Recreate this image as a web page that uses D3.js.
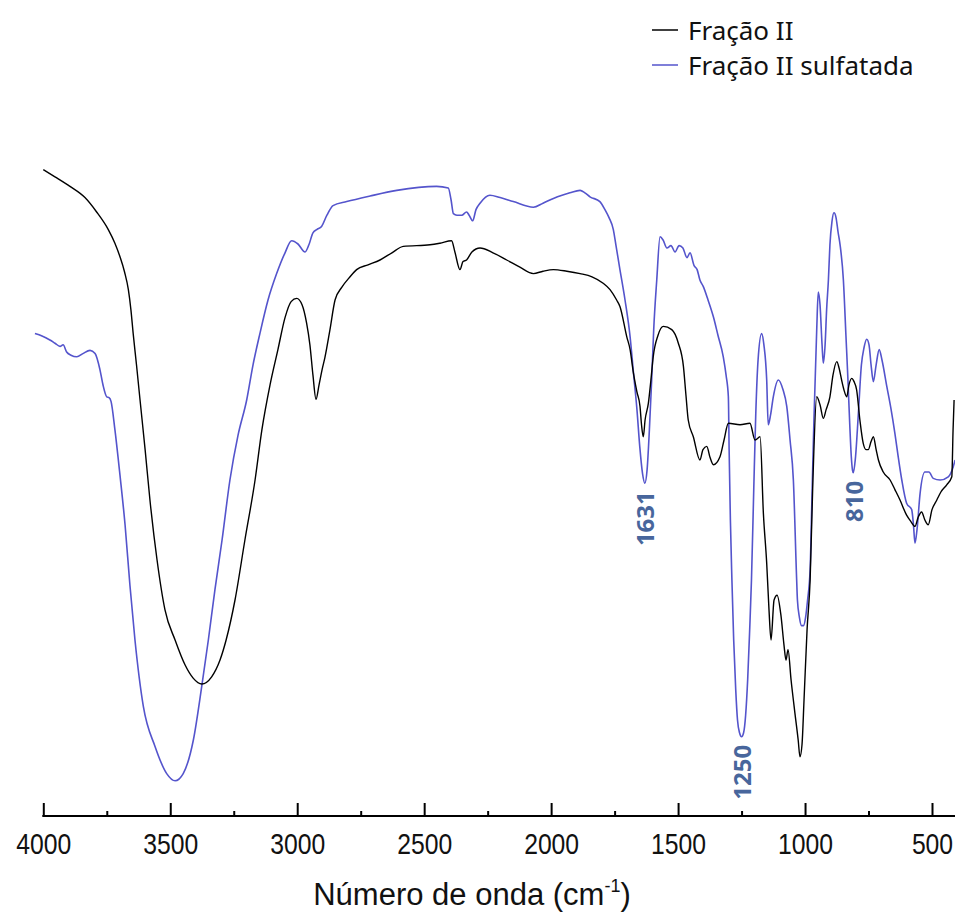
<!DOCTYPE html>
<html>
<head>
<meta charset="utf-8">
<script src="https://cdn.jsdelivr.net/npm/d3@7"></script>
<style>
  html, body { margin: 0; padding: 0; background: #fff; }
  svg { display: block; }
</style>
</head>
<body>
<svg id="chart" width="955" height="920"></svg>
<script>
// FTIR spectra: [wavenumber (cm-1), relative transmittance]
const fracaoII = [
  [4000,80.8],[3954,79.9],[3895,78.7],[3836,77.3],[3790,75.5],[3744,73.3],[3718,71.6],[3698,69.9],
  [3680,68.0],[3665,65.8],[3655,63.3],[3646,60.3],[3633,56.4],[3619,52.0],[3599,45.8],[3580,39.5],
  [3552,32.0],[3521,25.8],[3481,22.0],[3442,18.9],[3409,17.2],[3376,16.5],[3337,17.4],[3304,19.5],
  [3280,22.0],[3245,27.0],[3206,34.5],[3166,42.0],[3139,48.3],[3107,53.9],[3076,58.3],[3048,62.3],
  [3024,64.3],[3002,64.7],[2981,63.9],[2963,61.6],[2950,58.9],[2938,55.1],[2926,52.1],[2914,53.9],
  [2902,55.8],[2891,57.3],[2871,60.8],[2851,64.5],[2824,66.1],[2792,67.4],[2766,68.3],[2721,68.9],
  [2674,69.5],[2627,70.4],[2582,71.2],[2477,71.4],[2438,71.6],[2392,71.9],[2379,70.5],[2359,68.3],
  [2347,69.3],[2333,69.5],[2312,70.5],[2280,71.0],[2229,70.4],[2175,69.5],[2123,68.6],[2070,67.8],
  [2032,68.1],[1991,68.3],[1938,68.1],[1886,67.8],[1839,67.4],[1795,66.6],[1768,65.8],[1742,64.5],
  [1729,63.7],[1702,59.9],[1689,58.3],[1676,55.4],[1662,53.0],[1650,51.2],[1644,48.9],[1637,47.4],
  [1630,49.5],[1617,51.6],[1607,54.5],[1598,57.4],[1579,60.1],[1558,61.2],[1525,60.8],[1499,59.1],
  [1479,56.2],[1469,52.6],[1460,49.5],[1440,47.4],[1414,44.5],[1402,45.8],[1387,46.2],[1374,44.8],
  [1361,43.9],[1335,44.9],[1319,47.0],[1302,49.1],[1256,48.9],[1217,49.1],[1197,47.0],[1177,47.4],
  [1164,37.8],[1151,31.6],[1142,25.8],[1134,22.0],[1122,27.0],[1110,27.6],[1095,25.1],[1083,21.4],
  [1075,19.5],[1067,20.8],[1055,17.0],[1040,12.9],[1027,9.5],[1020,7.4],[1012,8.9],[1004,14.5],
  [992,23.3],[980,29.5],[969,42.0],[954,52.4],[941,51.4],[928,49.7],[917,50.8],[902,52.4],
  [890,55.1],[875,56.8],[866,56.0],[856,54.5],[847,53.3],[836,52.4],[827,53.9],[816,54.7],
  [807,54.3],[797,53.3],[784,49.5],[771,46.6],[760,45.8],[751,45.8],[740,46.8],[731,47.4],
  [720,45.8],[711,44.5],[692,43.0],[665,42.0],[646,40.8],[626,39.5],[600,37.6],[583,36.8],
  [567,36.2],[555,37.3],[541,38.0],[528,37.0],[515,36.4],[500,38.3],[481,39.5],[465,40.5],
  [442,41.4],[422,42.4],[417,48.3],[413,52.0]
];

const fracaoIISulfatada = [
  [4033,60.3],[4005,60.0],[3974,59.5],[3954,59.1],[3934,58.7],[3922,58.9],[3908,58.0],[3891,57.6],
  [3868,57.4],[3844,57.8],[3816,58.2],[3796,57.8],[3777,55.8],[3765,53.9],[3750,52.4],[3741,52.3],
  [3733,51.8],[3718,48.3],[3698,42.6],[3678,36.4],[3659,28.9],[3639,22.0],[3606,13.7],[3560,8.7],
  [3514,5.3],[3481,4.4],[3449,5.3],[3409,9.5],[3376,16.2],[3350,22.0],[3324,28.3],[3296,34.5],
  [3265,42.0],[3233,47.6],[3199,52.0],[3174,56.4],[3147,60.3],[3115,64.5],[3081,67.8],[3048,70.4],
  [3022,71.9],[2997,71.5],[2969,70.5],[2954,71.4],[2938,72.9],[2923,73.3],[2904,73.7],[2883,75.1],
  [2859,76.3],[2805,76.8],[2713,77.5],[2608,78.2],[2451,78.7],[2405,78.5],[2394,77.0],[2385,75.3],
  [2371,75.1],[2352,75.1],[2333,75.5],[2323,75.1],[2309,74.4],[2296,75.8],[2280,76.6],[2241,77.6],
  [2201,77.3],[2149,76.8],[2070,76.1],[2032,76.6],[1991,77.2],[1957,77.6],[1926,77.9],[1886,78.2],
  [1867,77.9],[1847,77.4],[1808,76.8],[1788,75.8],[1772,74.8],[1755,73.3],[1745,71.4],[1729,68.3],
  [1709,64.5],[1689,59.9],[1676,55.5],[1662,50.8],[1651,46.2],[1640,42.8],[1631,41.6],[1622,43.3],
  [1613,48.3],[1604,54.5],[1596,60.8],[1584,67.0],[1571,72.4],[1559,72.0],[1544,71.0],[1528,71.3],
  [1512,70.5],[1496,71.3],[1481,71.0],[1465,69.8],[1453,70.4],[1437,68.8],[1425,68.3],[1414,67.0],
  [1401,66.2],[1382,64.5],[1361,62.4],[1343,60.1],[1322,57.4],[1311,55.1],[1302,52.4],[1299,45.8],
  [1294,37.0],[1288,29.5],[1281,22.0],[1273,15.8],[1266,12.0],[1258,10.4],[1250,9.9],[1242,10.4],
  [1234,12.6],[1226,17.0],[1218,23.3],[1211,29.5],[1202,40.8],[1194,50.3],[1185,57.0],[1171,60.3],
  [1162,58.9],[1151,54.5],[1145,48.9],[1136,50.1],[1125,52.4],[1105,54.5],[1087,53.3],[1072,51.2],
  [1059,47.0],[1046,42.0],[1033,29.5],[1030,27.0],[1022,24.8],[1014,23.8],[1006,23.8],[998,24.8],
  [990,27.0],[980,30.8],[973,39.5],[965,49.5],[954,60.8],[948,65.5],[941,63.9],[933,58.9],
  [928,56.6],[921,58.9],[915,63.3],[908,67.0],[902,71.4],[894,74.3],[886,75.4],[878,74.8],
  [870,73.0],[862,71.4],[849,67.0],[839,60.1],[831,54.5],[824,49.0],[818,45.0],[813,43.2],
  [810,42.9],[802,44.6],[790,50.3],[778,56.4],[768,58.5],[757,59.6],[748,58.9],[740,56.4],
  [731,54.3],[720,56.4],[708,58.3],[697,57.0],[678,53.7],[661,50.8],[646,47.8],[634,45.1],
  [619,42.0],[600,39.1],[580,38.3],[573,36.4],[567,34.1],[559,35.8],[547,40.3],[528,43.0],
  [512,43.0],[495,42.2],[468,42.0],[436,42.4],[416,43.7],[409,44.5]
];

const majorTicks = [4000, 3500, 3000, 2500, 2000, 1500, 1000, 500];
const minorTicks = [3750, 3250, 2750, 2250, 1750, 1250, 750];
const peakLabels = [1631, 1250, 810];
const seriesNames = ["Fração II", "Fração II sulfatada"];
const seriesColors = ["#000000", "#5454cc"];
const xTitle = "Número de onda (cm";

const svg = d3.select("#chart");
const x = d3.scaleLinear().domain([4000, 500]).range([43.3, 932]);
const y = d3.scaleLinear().domain([0, 100]).range([816, 16]);

// spectra
const line = d3.line()
  .x(d => x(d[0]))
  .y(d => y(d[1]))
  .curve(d3.curveMonotoneX);

svg.append("path")
  .datum(fracaoIISulfatada)
  .attr("fill", "none")
  .attr("stroke", seriesColors[1])
  .attr("stroke-width", 1.6)
  .attr("d", line);

svg.append("path")
  .datum(fracaoII)
  .attr("fill", "none")
  .attr("stroke", seriesColors[0])
  .attr("stroke-width", 1.4)
  .attr("d", line);

// peak annotations on the sulfated spectrum
peakLabels.forEach(wn => {
  const p = fracaoIISulfatada.find(d => d[0] === wn);
  const cx = x(wn);
  const top = y(p[1]) + 8;
  svg.append("text")
    .attr("transform", `translate(${cx},${top}) rotate(-90)`)
    .attr("text-anchor", "end")
    .attr("dominant-baseline", "central")
    .attr("font-family", "'Noto Sans', sans-serif")
    .attr("font-weight", "bold")
    .attr("font-size", 24)
    .attr("fill", "#48669c")
    .text(wn);
});

// x axis
const axisY = 816;
const gx = svg.append("g").attr("transform", `translate(0,${axisY})`);
gx.call(d3.axisBottom(x).tickValues(majorTicks).tickSize(-13).tickPadding(17)
  .tickFormat(d3.format("d")));
gx.select(".domain").remove();
gx.selectAll(".tick line").attr("stroke", "#000").attr("stroke-width", 2);
gx.selectAll(".tick text")
  .attr("font-family", "'Liberation Sans', Arial, sans-serif")
  .attr("font-size", 30)
  .attr("fill", "#111")
  .attr("textLength", d => String(d).length * 13.75)
  .attr("lengthAdjust", "spacingAndGlyphs");

const gMinor = svg.append("g").attr("transform", `translate(0,${axisY})`);
gMinor.call(d3.axisBottom(x).tickValues(minorTicks).tickSize(-5).tickFormat(""));
gMinor.select(".domain").remove();
gMinor.selectAll(".tick line").attr("stroke", "#000").attr("stroke-width", 2);

svg.append("line")
  .attr("x1", x(4000) - 1).attr("x2", x(400))
  .attr("y1", axisY).attr("y2", axisY)
  .attr("stroke", "#000").attr("stroke-width", 2);

// axis title
const title = svg.append("text")
  .attr("x", 472).attr("y", 905)
  .attr("text-anchor", "middle")
  .attr("font-family", "'Liberation Sans', Arial, sans-serif")
  .attr("font-size", 31)
  .attr("fill", "#111");
title.append("tspan").text(xTitle);
title.append("tspan").attr("font-size", 18).attr("dy", -13).text("-1");
title.append("tspan").attr("dy", 13).text(")");

// legend
const legend = svg.append("g").attr("transform", "translate(650,0)");
seriesNames.forEach((name, i) => {
  const ly = 30 + i * 35;
  legend.append("line")
    .attr("x1", 2).attr("x2", 28)
    .attr("y1", ly).attr("y2", ly)
    .attr("stroke", seriesColors[i]).attr("stroke-width", 1.5);
  legend.append("text")
    .attr("x", 38).attr("y", ly + 10)
    .attr("font-family", "'Noto Sans', sans-serif")
    .attr("font-size", 26)
    .attr("fill", "#111")
    .text(name);
});
</script>
</body>
</html>
